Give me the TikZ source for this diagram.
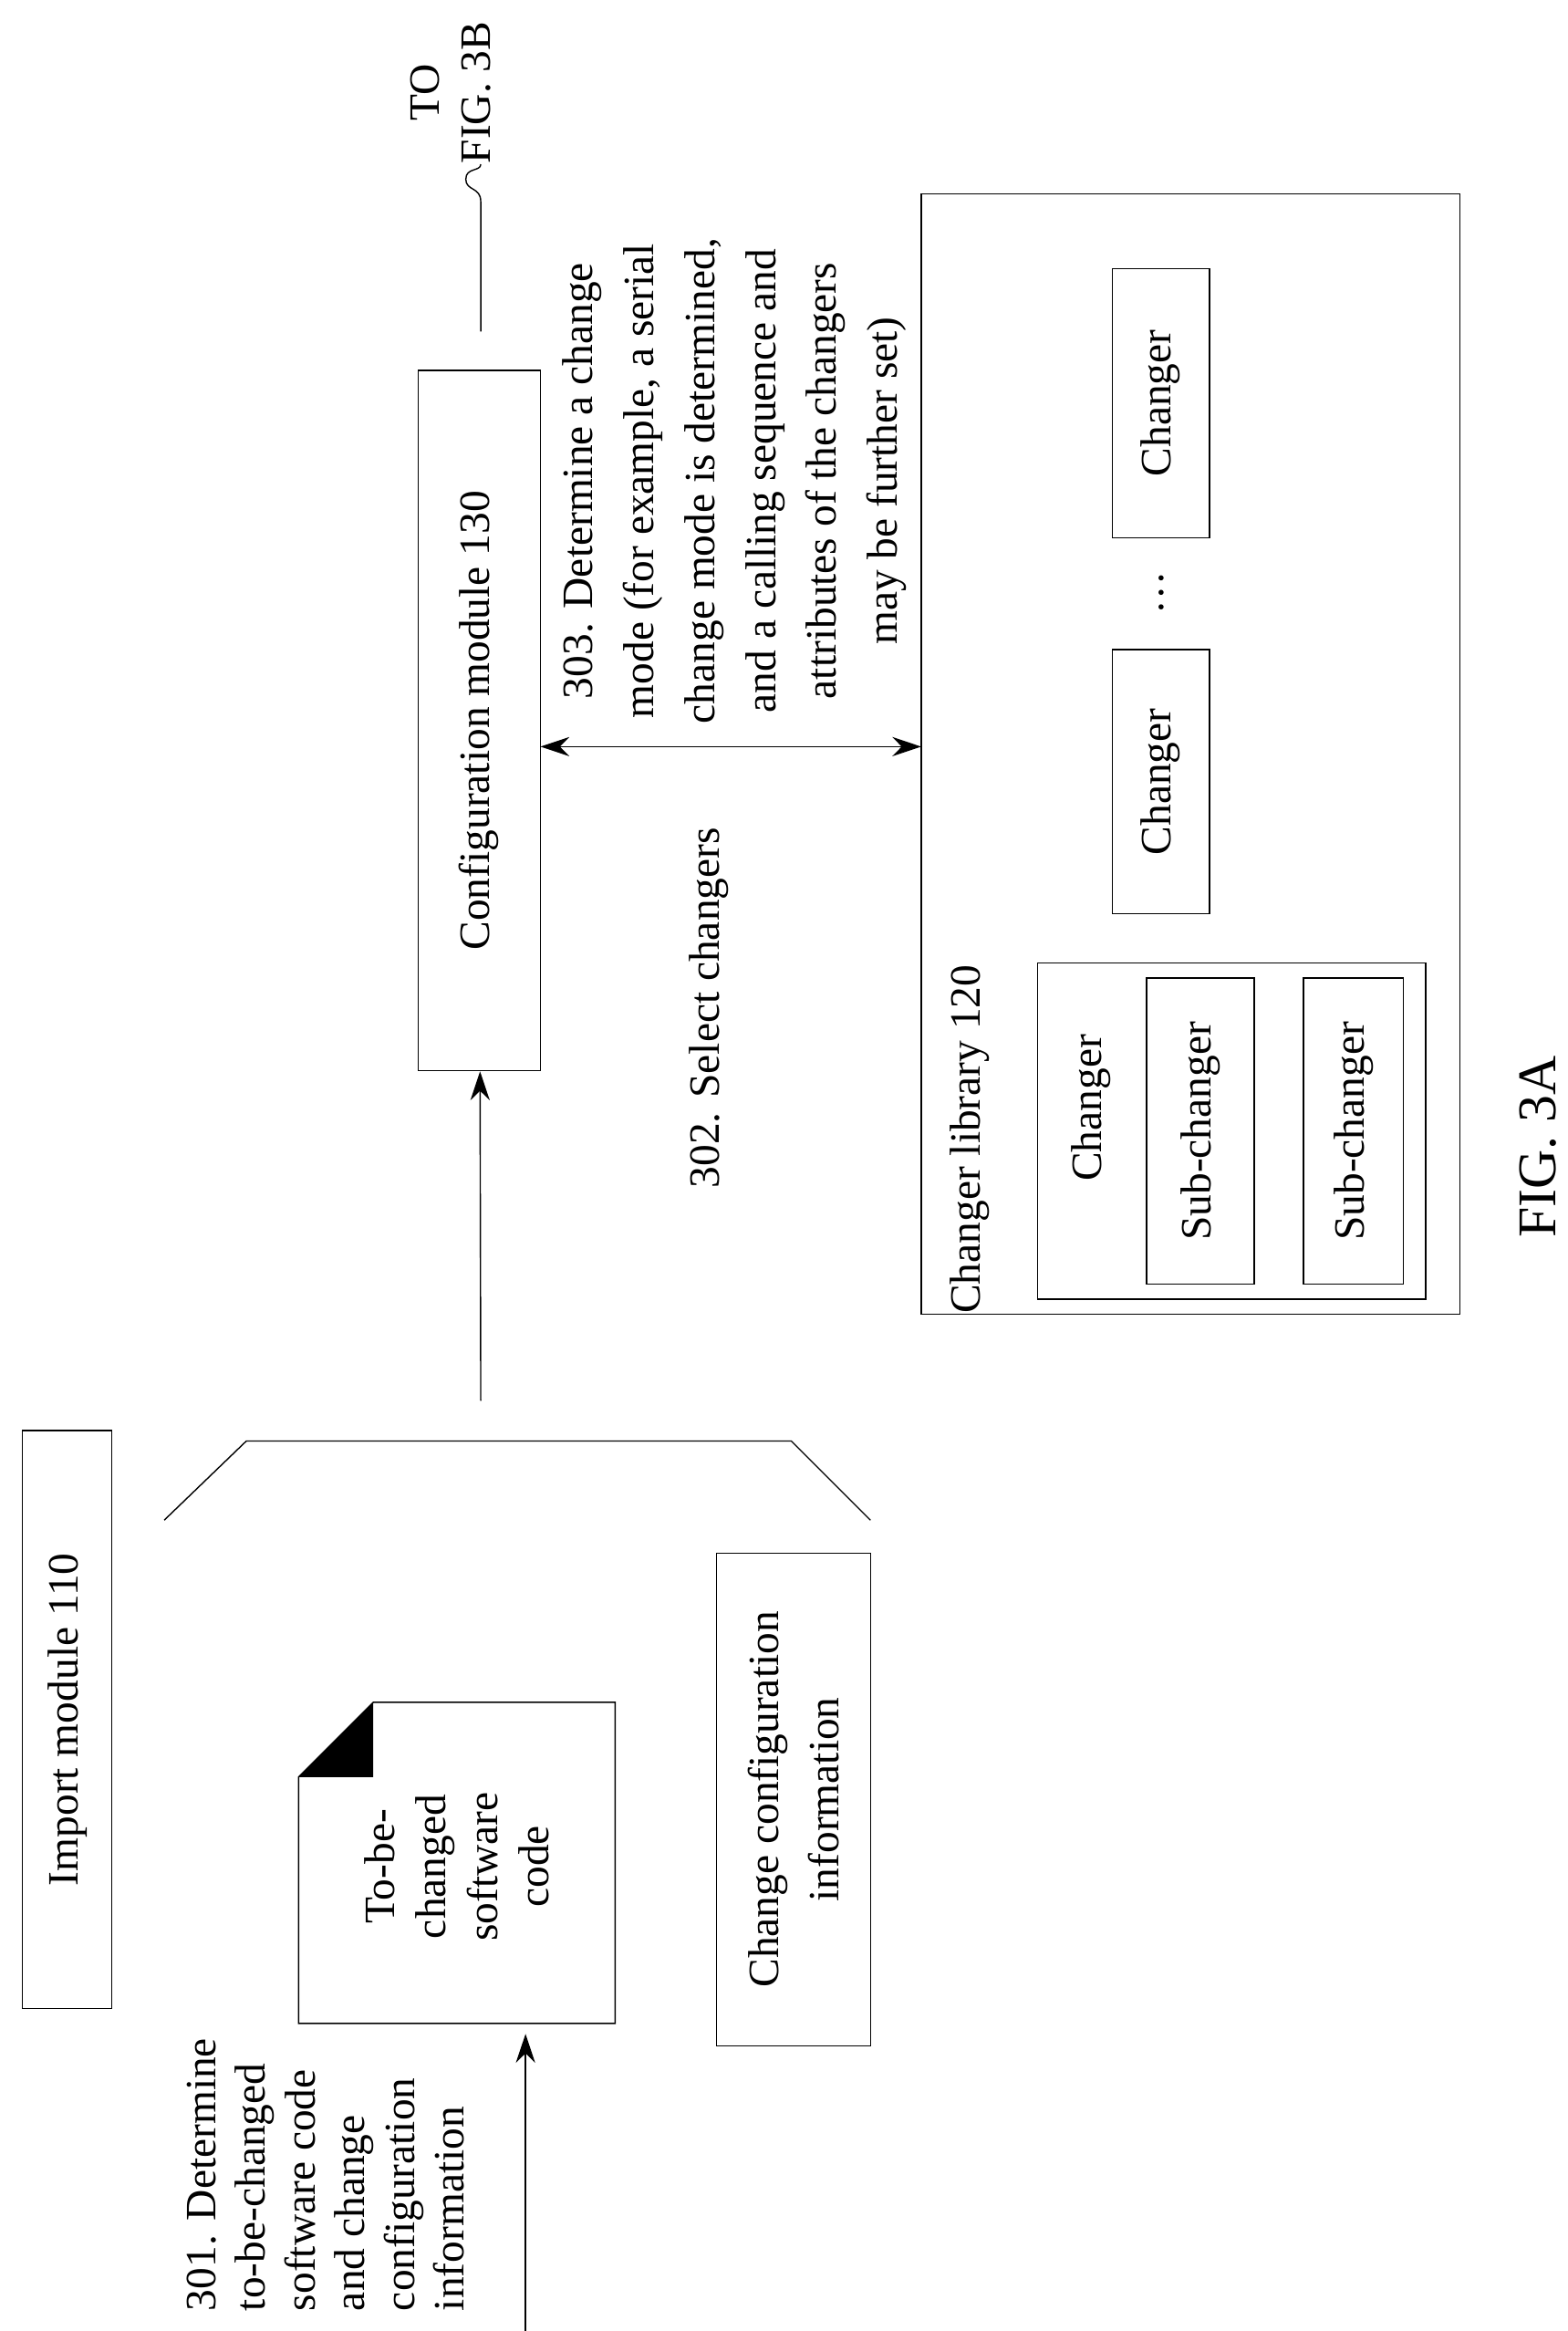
\documentclass[tikz,border=0pt]{standalone}
\usepackage{fontspec}
\setmainfont{Liberation Serif}
\usetikzlibrary{arrows.meta}
\newcommand{\px}{0.01637cm}
\begin{document}
\begin{tikzpicture}[x=0.01637cm,y=-0.01637cm,
    every node/.style={font=\fontsize{13.5}{19}\selectfont},
    box/.style={draw,rotate=90,align=center,inner sep=0pt},
    lbl/.style={rotate=90,align=center,inner sep=0pt},
    >={Stealth[length=9pt,width=6pt]}]
        \useasboundingbox (0,0) rectangle (1050,1561);

        % modules
        \node[box,minimum width={387*\px},minimum height={60*\px}]  (import) at (45,1151.5) {Import module 110};
        \node[box,minimum width={469*\px},minimum height={82*\px}]  (config) at (321,482.5) {Configuration module 130};
        \node[box,minimum width={330*\px},minimum height={103*\px}] (chginfo) at (531.5,1205) {Change configuration\\information};

        % software code document
        \draw (250,1140) -- (412,1140) -- (412,1355) -- (200,1355) -- (200,1190) -- cycle;
        \fill (200,1190) -- (250,1140) -- (250,1190) -- cycle;
        \node[lbl,font=\fontsize{13.5}{16}\selectfont] (code) at (306,1250) {To-be-\\changed\\software\\code};

        % step 301
        \node[lbl,align=left,anchor=west,font=\fontsize{13.5}{15.5}\selectfont] (s301) at (218,1548) {301. Determine\\to-be-changed\\software code\\and change\\configuration\\information};
        \coordinate (in0) at (352,1580);
        \coordinate (in1) at (352,1362);
        \draw[->] (in0) -- (in1);

        % grouping line
        \draw (110,1018) -- (165,965) -- (530,965) -- (583,1018);
        \coordinate (grp) at (322,938);
        \draw[->] (grp) -- (config);
        \node[lbl] (s302) at (475,675) {302. Select changers};

        % step 303
        \coordinate (dA) at (362,500);
        \coordinate (dB) at (617,500);
        \draw[<->] (dA) -- (dB);
        \node[lbl] (s303) at (492,322) {303. Determine a change\\mode (for example, a serial\\change mode is determined,\\and a calling sequence and\\attributes of the changers\\may be further set)};

        % off-page connector
        \coordinate (off0) at (322,222);
        \coordinate (off1) at (322,135);
        \draw (off0) -- (off1) .. controls (322,125) and (312,128) .. (312,120) .. controls (312,112) and (322,115) .. (322,110);
        \node[lbl,font=\fontsize{13.5}{16}\selectfont] (tofig) at (302,62) {TO\\FIG. 3B};

        % changer library
        \node[box,minimum width={750*\px},minimum height={361*\px}] (library) at (797.5,505) {};
        \node[lbl,anchor=north west] (libtxt) at (636,880) {Changer library 120};
        \node[box,minimum width={225*\px},minimum height={260*\px}] (changer) at (825,757.5) {};
        \node[lbl] (chtxt) at (731,742) {Changer};
        \node[box,minimum width={205*\px},minimum height={72*\px}] (sub1) at (804,757.5) {Sub-changer};
        \node[box,minimum width={205*\px},minimum height={67*\px}] (sub2) at (906.5,757.5) {Sub-changer};
        \node[box,minimum width={177*\px},minimum height={65*\px}] (ch1) at (777.5,523.5) {Changer};
        \node[box,minimum width={180*\px},minimum height={65*\px}] (ch2) at (777.5,270) {Changer};
        \node[lbl] (dots) at (778,397) {\dots};

        \node[lbl,font=\fontsize{17}{20}\selectfont] (fig) at (1030,768) {FIG. 3A};
\end{tikzpicture}
\end{document}
